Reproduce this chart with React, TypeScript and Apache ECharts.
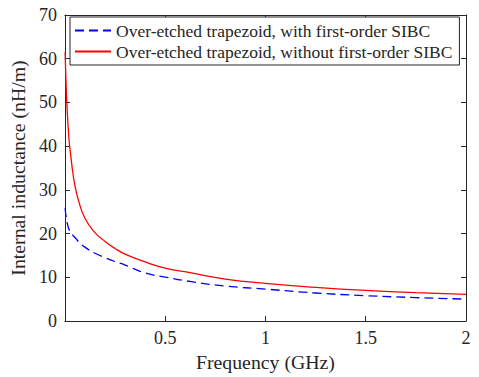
import React, { useEffect, useRef } from "react";
import * as echarts from "echarts";

const freqGHz = [0.001, 0.005, 0.01, 0.02, 0.03, 0.04, 0.05, 0.067, 0.1, 0.15, 0.2, 0.25, 0.3, 0.4, 0.5, 0.63, 0.8, 1.0, 1.25, 1.5, 1.75, 2.0];
const withSIBC = [25.8, 24.2, 22.8, 21.0, 20.2, 19.6, 19.1, 18.2, 16.9, 15.5, 14.5, 13.6, 12.8, 11.0, 10.05, 9.0, 8.0, 7.3, 6.4, 5.8, 5.35, 5.0];
const withoutSIBC = [61.5, 55.5, 49.5, 41.8, 37.5, 33.8, 31.0, 27.7, 23.5, 20.2, 18.2, 16.6, 15.3, 13.5, 12.1, 11.0, 9.6, 8.6, 7.7, 7.0, 6.5, 6.1];
const seriesNames = [
  "Over-etched trapezoid, with first-order SIBC",
  "Over-etched trapezoid, without first-order SIBC",
];
const xTicks = { min: 0, max: 2, interval: 0.5 };
const yTicks = { min: 0, max: 70, interval: 10 };

const FONT = "Liberation Serif";
const AX = "#262626";

export default function App() {
  const ref = useRef<HTMLDivElement>(null);
  useEffect(() => {
    if (!ref.current) return;
    const chart = echarts.init(ref.current, undefined, { renderer: "svg" });
    const axisCommon = {
      axisLine: { show: true, onZero: false, lineStyle: { color: AX, width: 1 } },
      axisTick: { show: true, inside: true, length: 5, lineStyle: { color: AX, width: 1 } },
      splitLine: { show: false },
    };
    chart.setOption({
      animation: false,
      backgroundColor: "#ffffff",
      textStyle: { fontFamily: FONT },
      grid: { left: 63, right: 13, top: 15, bottom: 56 },
      legend: {
        orient: "vertical",
        left: 70,
        top: 17,
        itemWidth: 36,
        itemHeight: 14,
        itemGap: 2,
        padding: [4, 7, 4, 4],
        backgroundColor: "#ffffff",
        borderColor: AX,
        borderWidth: 1,
        borderRadius: 0,
        itemStyle: { opacity: 0 },
        textStyle: { fontFamily: FONT, fontSize: 17.5, color: AX, lineHeight: 19 },
        data: seriesNames,
      },
      xAxis: [
        {
          type: "value",
          position: "bottom",
          ...xTicks,
          ...axisCommon,
          name: "Frequency (GHz)",
          nameLocation: "middle",
          nameGap: 29,
          nameTextStyle: { fontFamily: FONT, fontSize: 19.8, color: AX },
          axisLabel: {
            fontFamily: FONT,
            fontSize: 18,
            color: AX,
            margin: 8,
            formatter: (v: number) => (v === 0 ? "" : String(v)),
          },
        },
        {
          type: "value",
          position: "top",
          ...xTicks,
          ...axisCommon,
          axisLabel: { show: false },
        },
      ],
      yAxis: [
        {
          type: "value",
          position: "left",
          ...yTicks,
          ...axisCommon,
          name: "Internal inductance (nH/m)",
          nameLocation: "middle",
          nameGap: 30,
          nameTextStyle: { fontFamily: FONT, fontSize: 19.8, color: AX },
          axisLabel: { fontFamily: FONT, fontSize: 18, color: AX, margin: 8 },
        },
        {
          type: "value",
          position: "right",
          ...yTicks,
          ...axisCommon,
          axisLabel: { show: false },
        },
      ],
      series: [
        {
          name: seriesNames[0],
          type: "line",
          showSymbol: false,
          symbol: "none",
          smooth: 0.5,
          data: freqGHz.map((f, i) => [f, withSIBC[i]]),
          lineStyle: { color: "#0000ff", width: 1.3, type: [9, 5] },
          itemStyle: { color: "#0000ff" },
        },
        {
          name: seriesNames[1],
          type: "line",
          showSymbol: false,
          symbol: "none",
          smooth: 0.5,
          data: freqGHz.map((f, i) => [f, withoutSIBC[i]]),
          lineStyle: { color: "#ff0000", width: 1.3 },
          itemStyle: { color: "#ff0000" },
        },
      ],
    });
    return () => chart.dispose();
  }, []);
  return <div ref={ref} style={{ width: 479, height: 377, position: "absolute", left: 0, top: 0 }} />;
}
